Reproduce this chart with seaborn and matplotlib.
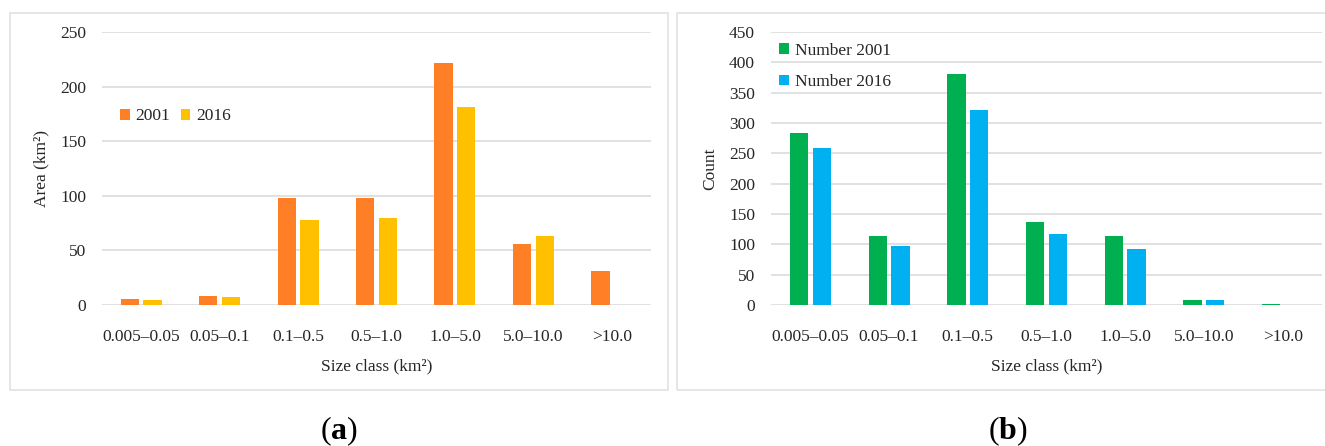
import matplotlib
matplotlib.use("Agg")
import matplotlib.pyplot as plt
from matplotlib.patches import Rectangle
import pandas as pd
import seaborn as sns

# Size classes (km²) shared by both panels
size_classes = ["0.005–0.05", "0.05–0.1", "0.1–0.5", "0.5–1.0", "1.0–5.0", "5.0–10.0", ">10.0"]

# Panel (a): total area per size class (km²)
area_2001 = [5.5, 7.9, 97.7, 97.7, 221.6, 56.2, 31.1]
area_2016 = [4.3, 7.3, 78.1, 79.7, 181.3, 62.9, 0.0]

# Panel (b): number of objects per size class
count_2001 = [284, 113, 380, 136, 113, 8, 2]
count_2016 = [258, 97, 322, 117, 92, 8, 0]

area_labels = ["2001", "2016"]
count_labels = ["Number 2001", "Number 2016"]

sns.set_theme(style="white")
plt.rcParams["font.family"] = ["Liberation Serif", "DejaVu Serif"]
plt.rcParams["mathtext.fontset"] = "custom"
plt.rcParams["mathtext.rm"] = "Liberation Serif"
plt.rcParams["mathtext.bf"] = "Liberation Serif:bold"

W, H = 1325, 446
fig = plt.figure(figsize=(W / 100, H / 100), dpi=100)
fig.patch.set_facecolor("white")

GRID = "#D9D9D9"
TEXT = "#262626"
FS = 12.5


def long_table(values_a, values_b, labels):
    return pd.DataFrame({
        "size": size_classes * 2,
        "value": list(values_a) + list(values_b),
        "series": [labels[0]] * len(size_classes) + [labels[1]] * len(size_classes),
    })


def style_axes(ax, ymax, ylabel):
    ax.set_xlim(-0.5, len(size_classes) - 0.5)
    ax.set_ylim(0, ymax)
    ax.set_yticks(range(0, ymax + 1, 50))
    ax.yaxis.grid(True, color=GRID, linewidth=1.1)
    ax.set_axisbelow(True)
    for s in ax.spines.values():
        s.set_visible(False)
    ax.tick_params(axis="both", length=0, labelsize=FS, colors=TEXT)
    ax.tick_params(axis="y", pad=11.5)
    ax.tick_params(axis="x", pad=17)
    ax.set_xlabel("Size class (km²)", fontsize=FS, color=TEXT, labelpad=10)
    ax.set_ylabel(ylabel, fontsize=FS, color=TEXT, labelpad=8)


def px_box(x0, y0, x1, y1):
    return [x0 / W, 1 - y1 / H, (x1 - x0) / W, (y1 - y0) / H]


# Panel frames
for x0, x1 in [(9.5, 668), (677, 1335)]:
    fig.patches.append(Rectangle((x0 / W, 1 - 390 / H), (x1 - x0) / W, (390 - 13) / H,
                                 transform=fig.transFigure, fill=False,
                                 edgecolor="#E2E2E2", linewidth=1.2))

# ---- Panel (a): area ----
ax1 = fig.add_axes(px_box(102, 32, 651, 305))
sns.barplot(data=long_table(area_2001, area_2016, area_labels), x="size", y="value",
            hue="series", palette=["#FF7F27", "#FFC000"], width=0.58, gap=0.2,
            linewidth=0, saturation=1, ax=ax1)
style_axes(ax1, 250, "Area (km²)")
h, l = ax1.get_legend_handles_labels()
ax1.legend(h, l, loc="center left", bbox_to_anchor=((120 - 102) / 549, (305 - 116.5) / 273),
           ncol=2, frameon=False, fontsize=FS, handlelength=0.55, handleheight=0.55,
           handletextpad=0.35, columnspacing=0.6, borderpad=0, borderaxespad=0,
           labelcolor=TEXT)

# ---- Panel (b): count ----
ax2 = fig.add_axes(px_box(771, 32, 1322, 305))
sns.barplot(data=long_table(count_2001, count_2016, count_labels), x="size", y="value",
            hue="series", palette=["#00B050", "#00B0F0"], width=0.58, gap=0.2,
            linewidth=0, saturation=1, ax=ax2)
style_axes(ax2, 450, "Count")
h, l = ax2.get_legend_handles_labels()
ax2.legend(h, l, loc="center left", bbox_to_anchor=((779 - 771) / 551, (305 - 66.5) / 273),
           ncol=1, frameon=False, fontsize=FS, handlelength=0.55, handleheight=0.55,
           handletextpad=0.35, labelspacing=0.9, borderpad=0, borderaxespad=0,
           labelcolor=TEXT)

# Panel captions
fig.text(339 / W, 1 - 431 / H, r"($\mathbf{a}$)", ha="center", va="center", fontsize=23, color="black")
fig.text(1008 / W, 1 - 431 / H, r"($\mathbf{b}$)", ha="center", va="center", fontsize=23, color="black")

fig.savefig("out.png", dpi=100, facecolor="white")
